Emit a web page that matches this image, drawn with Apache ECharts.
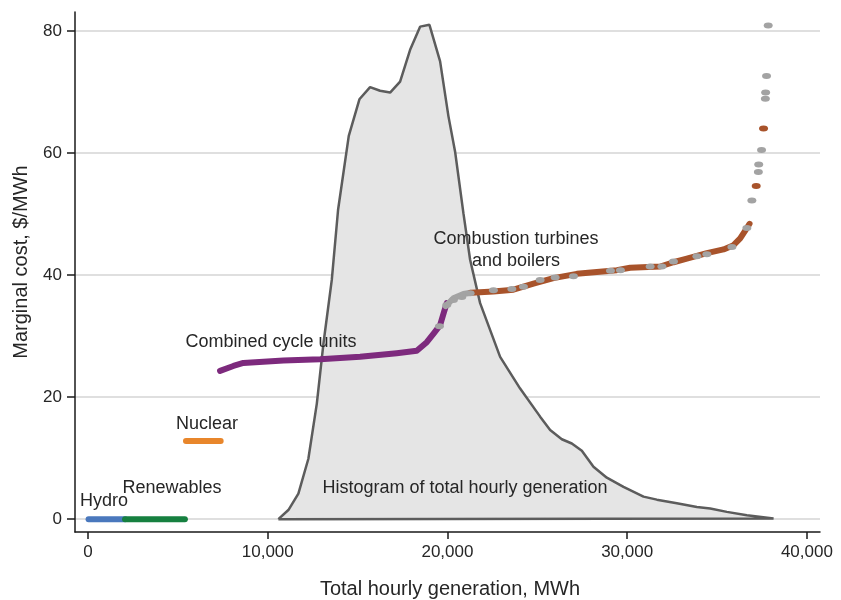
<!DOCTYPE html>
<html>
<head>
<meta charset="utf-8">
<script src="https://cdn.jsdelivr.net/npm/echarts@6/dist/echarts.min.js"></script>
<style>
  html, body { margin: 0; padding: 0; background: #fff; }
  #chart { width: 841px; height: 600px; }
</style>
</head>
<body>
<div id="chart"></div>
<script>
// histogram of total hourly generation (outline of the shaded area)
const histogram = [
    [10592, 0], [11148, 1.5], [11705, 4.2], [12261, 9.9], [12729, 18.9], [13096, 28.7],
    [13564, 39.2], [13914, 50.7], [14509, 62.8], [15101, 68.8], [15695, 70.8], [16252, 70.2],
    [16809, 69.9], [17365, 71.7], [17922, 76.9], [18478, 80.7], [18998, 81.0], [19591, 75.0],
    [20056, 66.0], [20426, 60.2], [20890, 50.1], [21261, 42.5], [21818, 35.4], [22931, 26.6],
    [24044, 21.4], [25157, 16.8], [25714, 14.6], [26363, 13.1], [26920, 12.4], [27478, 11.2],
    [28124, 8.6], [28868, 6.8], [29795, 5.3], [30908, 3.7], [31652, 3.2], [32765, 2.6],
    [33878, 2.0], [34620, 1.75], [35548, 1.2], [36661, 0.66], [38145, 0.1], [38145, 0],
    [10592, 0]
];

// merit order supply curve, by technology
const hydro = [[30, 0], [2060, 0]];
const renewables = [[2060, 0], [5390, 0]];
const nuclear = [[5450, 12.8], [7380, 12.8]];
const combinedCycle = [
    [7347, 24.3], [8088, 25.1], [8644, 25.6], [10871, 26.0], [12913, 26.2], [15139, 26.6],
    [17180, 27.2], [18293, 27.6], [18850, 29.0], [19250, 30.5], [19591, 31.8], [19814, 34.0],
    [19963, 35.4]
];
const boilerBend = [[19900, 34.9], [20333, 36.2], [20890, 36.9], [21300, 37.1]];
const turbines = [
    [21300, 37.1], [22559, 37.3], [23672, 37.6], [24786, 38.6], [25899, 39.5], [27199, 40.2],
    [28312, 40.5], [29425, 40.8], [30166, 41.2], [31836, 41.4], [32577, 42.1], [33322, 42.7],
    [34435, 43.6], [35362, 44.2], [35918, 44.9], [36289, 46.0], [36661, 47.7], [36809, 48.4]
];
const turbineDots = [[37180, 54.6], [37588, 64.0]];
const boilerDots = [
    [19553, 31.6], [19964, 35.1], [20331, 35.9], [20799, 36.4], [21261, 37.0], [22558, 37.5],
    [23582, 37.7], [24228, 38.1], [25157, 39.2], [25992, 39.6], [27011, 39.8], [29070, 40.7],
    [29627, 40.8], [31279, 41.4], [31931, 41.4], [32576, 42.2], [33879, 43.1], [34435, 43.4],
    [35827, 44.6], [36661, 47.7], [36939, 52.2], [37300, 56.9], [37320, 58.1], [37477, 60.5],
    [37690, 68.9], [37705, 69.9], [37755, 72.6], [37847, 80.9]
];

const xTicks = [0, 10000, 20000, 30000, 40000];
const yTicks = [0, 20, 40, 60, 80];

const font = '"Liberation Sans", Arial, sans-serif';
const textColor = '#262626';

const myChart = echarts.init(document.getElementById('chart'));

function segment(data, color) {
    return {
        type: 'line',
        data: data,
        showSymbol: false,
        symbol: 'none',
        z: 3,
        lineStyle: { color: color, width: 6, cap: 'round', join: 'round' },
        silent: true
    };
}

function dots(data, color) {
    return {
        type: 'scatter',
        data: data,
        symbol: 'circle',
        symbolSize: [9, 6],
        z: 4,
        itemStyle: { color: color, opacity: 1 },
        silent: true
    };
}

function label(text, x, y) {
    return {
        type: 'text',
        x: x,
        y: y,
        z: 10,
        style: {
            text: text,
            fill: textColor,
            font: '18px ' + font,
            align: 'center',
            verticalAlign: 'middle'
        }
    };
}

const option = {
    animation: false,
    grid: { left: 75, right: 21, top: 12, bottom: 68 },
    xAxis: {
        type: 'value',
        min: -725,
        max: 40730,
        axisLine: { onZero: false, lineStyle: { color: '#1a1a1a', width: 1.5 } },
        axisTick: { customValues: xTicks, length: 7, lineStyle: { color: '#1a1a1a', width: 1.5 } },
        axisLabel: {
            customValues: xTicks,
            margin: 12,
            fontSize: 17,
            fontFamily: font,
            color: textColor,
            formatter: v => v.toLocaleString('en-US')
        },
        splitLine: { show: false }
    },
    yAxis: {
        type: 'value',
        min: -2.1,
        max: 83.1,
        axisLine: { show: true, onZero: false, lineStyle: { color: '#1a1a1a', width: 1.5 } },
        axisTick: { show: true, customValues: yTicks, length: 8, lineStyle: { color: '#1a1a1a', width: 1.5 } },
        axisLabel: {
            customValues: yTicks,
            margin: 13,
            fontSize: 17,
            fontFamily: font,
            color: textColor
        },
        splitLine: { show: false }
    },
    series: [
        {
            // gridlines, drawn behind the histogram
            type: 'line',
            data: [[-725, -2.1]],
            symbol: 'none',
            lineStyle: { opacity: 0 },
            z: 0,
            silent: true,
            markLine: {
                z: 0,
                silent: true,
                symbol: 'none',
                label: { show: false },
                lineStyle: { color: '#d4d4d4', width: 1.5, type: 'solid' },
                data: yTicks.map(v => ({ yAxis: v }))
            }
        },
        {
            type: 'line',
            data: histogram,
            symbol: 'none',
            z: 1,
            silent: true,
            lineStyle: { color: '#5c5c5c', width: 2.5 },
            areaStyle: { color: '#e5e5e5', opacity: 1 }
        },
        segment(hydro, '#4a78bd'),
        segment(renewables, '#168040'),
        segment(nuclear, '#e8862b'),
        segment(combinedCycle, '#7d2a7d'),
        segment(boilerBend, '#a3a3a3'),
        segment(turbines, '#a8532b'),
        dots(turbineDots, '#a8532b'),
        dots(boilerDots, '#a3a3a3')
    ],
    graphic: [
        label('Combined cycle units', 271, 342),
        label('Nuclear', 207, 424),
        label('Renewables', 172, 488),
        label('Hydro', 104, 501),
        label('Histogram of total hourly generation', 465, 488),
        label('Combustion turbines', 516, 239),
        label('and boilers', 516, 261),
        {
            type: 'text',
            x: 21,
            y: 262,
            rotation: Math.PI / 2,
            style: {
                text: 'Marginal cost, $/MWh',
                fill: textColor,
                font: '20px ' + font,
                align: 'center',
                verticalAlign: 'middle'
            }
        },
        {
            type: 'text',
            x: 450,
            y: 589,
            style: {
                text: 'Total hourly generation, MWh',
                fill: textColor,
                font: '20px ' + font,
                align: 'center',
                verticalAlign: 'middle'
            }
        }
    ]
};

myChart.setOption(option);

window.addEventListener('resize', () => {
    myChart.resize();
});
</script>
</body>
</html>
